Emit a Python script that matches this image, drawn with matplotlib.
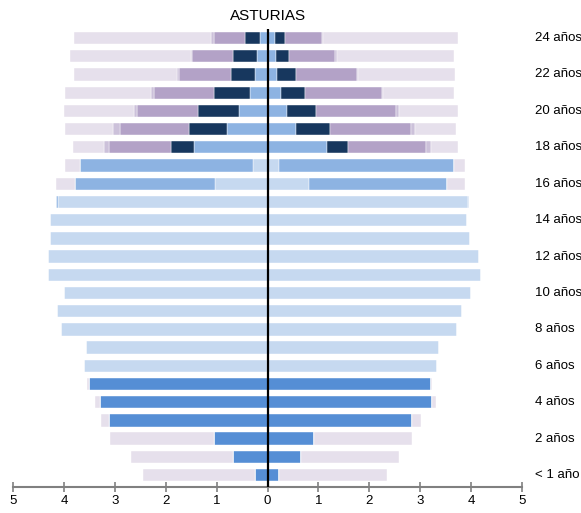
import matplotlib.pyplot as plt
import numpy as np

plt.rcParams['font.family'] = ['Liberation Sans', 'DejaVu Sans']

# Ages 0 (< 1 año) .. 24
ages = list(range(25))
age_labels = ['< 1 año'] + [f'{a} años' for a in range(1, 25)]

# Left side: segments from the centre outwards
left_infantil = [0.24, 0.67, 1.05, 3.11, 3.29, 3.50, 0.02] + [0] * 18
left_prim_eso = [0, 0, 0, 0, 0, 0, 3.58, 3.56, 4.06, 4.13, 3.99, 4.32, 4.31,
                 4.27, 4.27, 4.12, 1.03, 0.28, 0, 0, 0, 0, 0, 0, 0]
left_bach_fp = [0] * 15 + [0.04, 2.75, 3.41, 1.45, 0.80, 0.56, 0.34, 0.24, 0.20, 0.14]
left_fp_sup = [0] * 18 + [0.44, 0.74, 0.80, 0.72, 0.48, 0.47, 0.30]
left_univ = [0] * 18 + [1.22, 1.36, 1.20, 1.17, 1.01, 0.81, 0.62]
left_otros = [0] * 18 + [0.10, 0.13, 0.07, 0.05, 0.04, 0.03, 0.05]
left_total = [2.45, 2.68, 3.10, 3.27, 3.39, 3.55, 3.60, 3.56, 4.06, 4.13, 3.99,
              4.32, 4.31, 4.27, 4.27, 4.16, 4.16, 3.97, 3.82, 3.97, 3.99, 3.98,
              3.80, 3.88, 3.80]

# Right side
right_infantil = [0.23, 0.66, 0.91, 2.84, 3.24, 3.21] + [0] * 19
right_prim_eso = [0, 0, 0, 0, 0, 0, 3.32, 3.37, 3.73, 3.83, 4.00, 4.19, 4.16,
                  3.98, 3.92, 3.93, 0.81, 0.23, 0, 0, 0, 0, 0, 0, 0]
right_bach_fp = [0] * 15 + [0.03, 2.72, 3.44, 1.17, 0.56, 0.38, 0.26, 0.18, 0.16, 0.145]
right_fp_sup = [0] * 18 + [0.41, 0.67, 0.58, 0.47, 0.38, 0.27, 0.20]
right_univ = [0] * 18 + [1.54, 1.59, 1.57, 1.51, 1.19, 0.90, 0.73]
right_otros = [0] * 18 + [0.09, 0.08, 0.06, 0.03, 0.03, 0.03, 0.02]
right_total = [2.34, 2.59, 2.83, 3.02, 3.31, 3.23, 3.32, 3.37, 3.73, 3.83, 4.00,
               4.19, 4.16, 3.98, 3.92, 3.96, 3.88, 3.88, 3.75, 3.71, 3.75, 3.67,
               3.68, 3.67, 3.75]

colors = ['#558ED5', '#C6D9F0', '#8DB3E2', '#17375E', '#B3A2C7', '#CCC1DA', '#E6E0EC']

fig = plt.figure(figsize=(5.81, 5.13), dpi=100)
ax = fig.add_axes([0.0224, 0.0507, 0.8761, 0.8928])

bar_h = 0.68
for side, segs, total in [(-1, [left_infantil, left_prim_eso, left_bach_fp, left_fp_sup, left_univ, left_otros], left_total),
                          (1, [right_infantil, right_prim_eso, right_bach_fp, right_fp_sup, right_univ, right_otros], right_total)]:
    segs = [np.array(s, dtype=float) for s in segs]
    rest = np.array(total) - sum(segs)
    segs.append(np.clip(rest, 0, None))
    start = np.zeros(len(ages))
    for vals, c in zip(segs, colors):
        ax.barh(ages, side * vals, left=side * start, height=bar_h, color=c,
                edgecolor='white', linewidth=0.3)
        start = start + vals

ax.axvline(0, color='black', linewidth=1.6, zorder=5)

ax.set_xlim(-5, 5)
ax.set_ylim(-0.66, 24.5)
ax.set_xticks(range(-5, 6))
ax.set_xticklabels([str(abs(t)) for t in range(-5, 6)], fontsize=9.5)
ax.set_yticks([])
for s in ['top', 'left', 'right']:
    ax.spines[s].set_visible(False)
ax.spines['bottom'].set_color('#808080')
ax.spines['bottom'].set_linewidth(1.5)
ax.tick_params(axis='x', colors='#808080', direction='inout', length=7, width=1.2,
               labelcolor='black', pad=2)

for a in range(0, 25, 2):
    ax.text(5.26, a, age_labels[a], fontsize=9.5, va='center', ha='left', clip_on=False)

fig.text(0.4605, 1 - 16 / 513, 'ASTURIAS', ha='center', va='center', fontsize=11)

fig.savefig('out.png', dpi=100)
